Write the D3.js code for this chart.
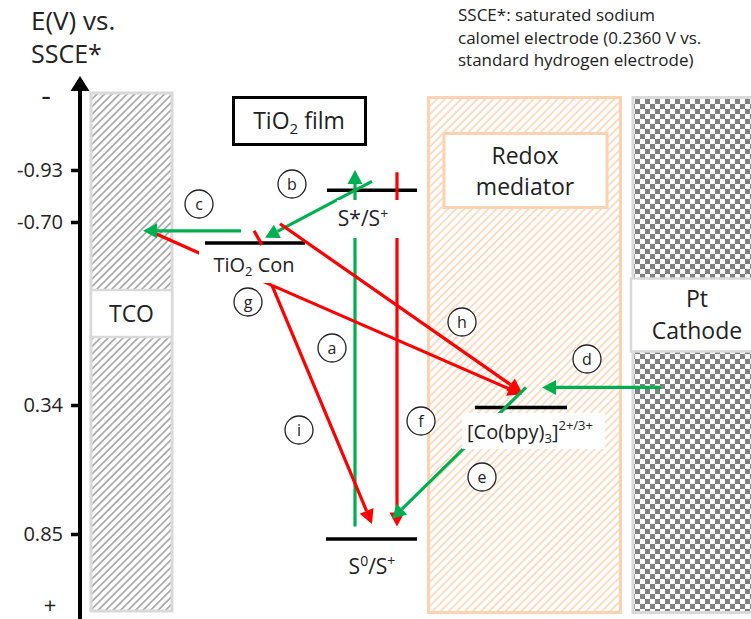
<!DOCTYPE html>
<html>
<head>
<meta charset="utf-8">
<script src="https://cdn.jsdelivr.net/npm/d3@7"></script>
<style>
  body { margin: 0; background: #fff; }
  svg { display: block; }
  text { font-family: "Open Sans", "Noto Sans", sans-serif; fill: #222; }
</style>
</head>
<body>
<script>
// ---- Data -------------------------------------------------------------
// Potential axis (V vs. SSCE); the energy scale is only schematic between ticks
const tickValues = [-0.93, -0.70, 0.34, 0.85];

// Energy levels drawn as short horizontal bars
const levelIds      = ["dye_excited", "tio2_cb", "cobalt", "dye_ground"];
const levelEnergies = [-0.84, -0.58, 0.35, 0.87];

// Electron-transfer steps (start / end potential of each arrow)
const stepIds     = ["a", "b", "r0", "g", "h", "i", "f", "c", "d", "e"];
const stepKinds   = ["fwd", "fwd", "loss", "loss", "loss", "loss", "loss", "fwd", "fwd", "fwd"];
const stepStartE  = [0.82, -0.88, -0.64, -0.34, -0.69, -0.34, -0.92, -0.65, 0.24, 0.24];
const stepEndE    = [-0.93, -0.61, -0.34, 0.28, 0.27, 0.81, 0.82, -0.65, 0.24, 0.79];
const stepHasHead = [true, true, false, true, true, true, true, true, true, true];

// Circled step letters
const stepLetters = ["a", "b", "c", "d", "e", "f", "g", "h", "i"];

// ---- Layout -------------------------------------------------------------
const W = 751, H = 619;
const GREEN = "#00b050", RED = "#ff0000", PEACH = "#fbd3b3", LGRAY = "#d9d9d9";

// horizontal placement of each arrow (start x, end x)
const stepX = {
  a: [355, 355], b: [372, 265], r0: [153, 272], g: [272, 522], h: [280, 522],
  i: [272, 372], f: [397, 397], c: [241, 143], d: [661, 542], e: [526, 392]
};
// extent of each level bar
const levelX = {
  dye_excited: [327, 417], tio2_cb: [205, 305], cobalt: [475, 567], dye_ground: [326, 417]
};
// circle centres for the step letters
const letterPos = {
  a: [332, 348], b: [292, 184], c: [199, 204], d: [587, 359], e: [482, 477],
  f: [421, 421], g: [248, 302], h: [462, 322], i: [299, 430]
};

const svg = d3.select("body").append("svg").attr("width", W).attr("height", H);
const defs = svg.append("defs");

// diagonal hatch for the TCO column
const hp = 5.3;
const hatch = defs.append("pattern").attr("id", "hatchGray")
  .attr("patternUnits", "userSpaceOnUse").attr("width", hp).attr("height", hp)
  .attr("patternTransform", "rotate(45)");
hatch.append("rect").attr("width", hp).attr("height", hp).attr("fill", "#fff");
hatch.append("line").attr("x1", hp / 2).attr("y1", 0).attr("x2", hp / 2).attr("y2", hp)
  .attr("stroke", "#a3a3a3").attr("stroke-width", 1.6);

// diagonal hatch for the electrolyte column
const hatch2 = defs.append("pattern").attr("id", "hatchPeach")
  .attr("patternUnits", "userSpaceOnUse").attr("width", 5.7).attr("height", 5.7)
  .attr("patternTransform", "rotate(45)");
hatch2.append("rect").attr("width", 5.7).attr("height", 5.7).attr("fill", "#fff");
hatch2.append("line").attr("x1", 2.8).attr("y1", 0).attr("x2", 2.8).attr("y2", 5.7)
  .attr("stroke", "#fcdcc3").attr("stroke-width", 2);

// checkerboard for the Pt cathode
const cell = 5;
const checker = defs.append("pattern").attr("id", "checker")
  .attr("patternUnits", "userSpaceOnUse").attr("width", cell * 2).attr("height", cell * 2)
  .attr("x", 635).attr("y", 99);
checker.append("rect").attr("width", cell * 2).attr("height", cell * 2).attr("fill", "#fff");
checker.append("rect").attr("width", cell).attr("height", cell).attr("fill", "#808080");
checker.append("rect").attr("x", cell).attr("y", cell).attr("width", cell).attr("height", cell).attr("fill", "#808080");

// ---- Scale & axis ------------------------------------------------------
const y = d3.scaleLinear().domain(tickValues).range([170, 222, 405, 534]);

// columns
svg.append("rect").attr("x", 91).attr("y", 93).attr("width", 81).attr("height", 518)
  .attr("fill", "url(#hatchGray)").attr("stroke", LGRAY).attr("stroke-width", 3);
svg.append("rect").attr("x", 428.5).attr("y", 97.5).attr("width", 192).attr("height", 515)
  .attr("fill", "url(#hatchPeach)").attr("stroke", PEACH).attr("stroke-width", 3);
svg.append("rect").attr("x", 633).attr("y", 97.5).attr("width", 130).attr("height", 515)
  .attr("fill", "url(#checker)").attr("stroke", LGRAY).attr("stroke-width", 3);

// column name boxes
svg.append("rect").attr("x", 91).attr("y", 290).attr("width", 81).attr("height", 47)
  .attr("fill", "#fff").attr("stroke", LGRAY).attr("stroke-width", 2.5);
svg.append("text").attr("x", 131.5).attr("y", 322).attr("text-anchor", "middle")
  .attr("font-size", 23).text("TCO");

svg.append("rect").attr("x", 631).attr("y", 278.5).attr("width", 130).attr("height", 73)
  .attr("fill", "#fff").attr("stroke", LGRAY).attr("stroke-width", 2.5);
svg.append("text").attr("x", 697).attr("y", 307).attr("text-anchor", "middle")
  .attr("font-size", 23).text("Pt");
svg.append("text").attr("x", 697).attr("y", 339).attr("text-anchor", "middle")
  .attr("font-size", 23).text("Cathode");

svg.append("rect").attr("x", 444).attr("y", 133.5).attr("width", 163).attr("height", 74)
  .attr("fill", "#fff").attr("stroke", PEACH).attr("stroke-width", 3);
svg.append("text").attr("x", 525).attr("y", 164).attr("text-anchor", "middle")
  .attr("font-size", 23).text("Redox");
svg.append("text").attr("x", 525).attr("y", 195).attr("text-anchor", "middle")
  .attr("font-size", 23).text("mediator");

svg.append("rect").attr("x", 233.5).attr("y", 97.5).attr("width", 132).attr("height", 47)
  .attr("fill", "#fff").attr("stroke", "#000").attr("stroke-width", 3);
const tf = svg.append("text").attr("x", 299).attr("y", 129).attr("text-anchor", "middle")
  .attr("font-size", 23);
tf.append("tspan").text("TiO");
tf.append("tspan").attr("font-size", 15).attr("dy", 5).text("2");
tf.append("tspan").attr("dy", -5).text(" film");

// axis with arrowhead
svg.append("line").attr("x1", 80).attr("x2", 80).attr("y1", 88).attr("y2", 619)
  .attr("stroke", "#000").attr("stroke-width", 4);
svg.append("path").attr("d", "M80,76 L70.5,91 L89.5,91 Z").attr("fill", "#000");

const axis = svg.append("g").attr("transform", "translate(80,0)")
  .call(d3.axisLeft(y).tickValues(tickValues).tickSize(9).tickPadding(8)
    .tickFormat(d => d.toFixed(2)));
axis.select(".domain").remove();
axis.selectAll(".tick line").attr("stroke", "#000").attr("stroke-width", 3.5);
axis.selectAll(".tick text").attr("font-size", 20).attr("fill", "#222")
  .attr("font-family", "\"Open Sans\", \"Noto Sans\", sans-serif");

svg.append("text").attr("x", 46).attr("y", 106).attr("text-anchor", "middle")
  .attr("font-size", 30).text("-");
svg.append("text").attr("x", 50).attr("y", 613).attr("text-anchor", "middle")
  .attr("font-size", 22).text("+");

// axis title
svg.append("text").attr("x", 31).attr("y", 30).attr("font-size", 26).text("E(V) vs.");
svg.append("text").attr("x", 31).attr("y", 63).attr("font-size", 25).text("SSCE*");

// footnote
const note = ["SSCE*: saturated sodium", "calomel electrode (0.2360 V vs.", "standard hydrogen electrode)"];
svg.selectAll("text.note").data(note).join("text").attr("class", "note")
  .attr("x", 458).attr("y", (d, i) => 21 + i * 22.5).attr("font-size", 17).text(d => d);

// ---- Energy levels ----------------------------------------------------------
svg.selectAll("line.level").data(levelIds).join("line").attr("class", "level")
  .attr("x1", d => levelX[d][0]).attr("x2", d => levelX[d][1])
  .attr("y1", (d, i) => y(levelEnergies[i])).attr("y2", (d, i) => y(levelEnergies[i]))
  .attr("stroke", "#000").attr("stroke-width", 3.5);

// ---- Arrows ---------------------------------------------------------------
function drawArrow(x1, y1, x2, y2, color, head) {
  const L = 14, hw = 7.5;
  const dx = x2 - x1, dy = y2 - y1, len = Math.hypot(dx, dy);
  const ux = dx / len, uy = dy / len;
  const bx = head ? x2 - ux * L : x2, by = head ? y2 - uy * L : y2;
  svg.append("line").attr("x1", x1).attr("y1", y1).attr("x2", bx).attr("y2", by)
    .attr("stroke", color).attr("stroke-width", 3.2);
  if (head) {
    svg.append("path")
      .attr("d", `M${x2},${y2} L${bx - uy * hw},${by + ux * hw} L${bx + uy * hw},${by - ux * hw} Z`)
      .attr("fill", color);
  }
}
const drawOrder = ["a", "b", "r0", "g", "h", "i", "f", "c", "d", "e"];
drawOrder.forEach(id => {
  const k = stepIds.indexOf(id);
  const [x1, x2] = stepX[id];
  drawArrow(x1, y(stepStartE[k]), x2, y(stepEndE[k]),
    stepKinds[k] === "fwd" ? GREEN : RED, stepHasHead[k]);
});
// short red tick across the TiO2 conduction band
drawArrow(254, y(-0.65), 262, y(-0.57), RED, false);

// ---- Level labels (white backing hides the lines beneath) ---------------------------
svg.append("rect").attr("x", 337).attr("y", 200).attr("width", 73).attr("height", 38).attr("fill", "#fff");
const l1 = svg.append("text").attr("x", 363).attr("y", 226).attr("text-anchor", "middle").attr("font-size", 21);
l1.append("tspan").text("S*/S");
l1.append("tspan").attr("font-size", 14).attr("dy", -7).text("+");

svg.append("rect").attr("x", 199).attr("y", 249).attr("width", 101).attr("height", 34).attr("fill", "#fff");
const l2 = svg.append("text").attr("x", 254).attr("y", 272).attr("text-anchor", "middle").attr("font-size", 20);
l2.append("tspan").text("TiO");
l2.append("tspan").attr("font-size", 13).attr("dy", 4).text("2");
l2.append("tspan").attr("dy", -4).text(" Con");

svg.append("rect").attr("x", 462).attr("y", 413).attr("width", 143).attr("height", 36).attr("fill", "#fff");
const l3 = svg.append("text").attr("x", 467).attr("y", 439).attr("font-size", 20);
l3.append("tspan").text("[Co(bpy)");
l3.append("tspan").attr("font-size", 13).attr("dy", 4).text("3");
l3.append("tspan").attr("dy", -4).text("]");
l3.append("tspan").attr("font-size", 13).attr("dy", -9).text("2+/3+");

const l4 = svg.append("text").attr("x", 372).attr("y", 574).attr("text-anchor", "middle").attr("font-size", 21);
l4.append("tspan").text("S");
l4.append("tspan").attr("font-size", 14).attr("dy", -8).text("0");
l4.append("tspan").attr("dy", 8).text("/S");
l4.append("tspan").attr("font-size", 14).attr("dy", -8).text("+");

// ---- Circled step letters -----------------------------------------------------
const lg = svg.selectAll("g.step").data(stepLetters).join("g").attr("class", "step")
  .attr("transform", d => `translate(${letterPos[d][0]},${letterPos[d][1]})`);
lg.append("circle").attr("r", 14).attr("fill", "#fff").attr("stroke", "#222").attr("stroke-width", 1.3);
lg.append("text").attr("text-anchor", "middle").attr("dy", "0.35em").attr("font-size", 16).text(d => d);
</script>
</body>
</html>
